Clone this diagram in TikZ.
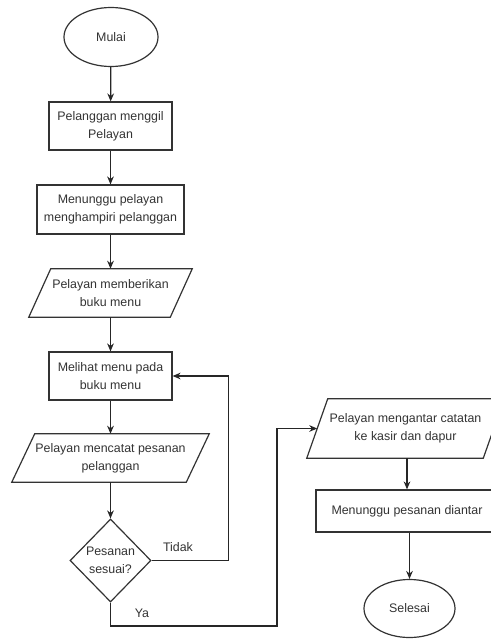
\documentclass[tikz,border=0pt]{standalone}
\usepackage{fontspec}
\setmainfont{Liberation Sans}
\usetikzlibrary{shapes.geometric,arrows.meta,calc}
\newcommand\pxu{0.75pt}
\newcommand\parabox[2]{%
  \draw[shapeline] ([xshift=#2*\pxu]#1.north west) -- (#1.north east) -- ([xshift=-#2*\pxu]#1.south east) -- (#1.south west) -- cycle;}
\begin{document}
\begin{tikzpicture}[x=0.75pt,y=-0.75pt,
  shapeline/.style={draw=black!80,line width=0.9pt},
  txt/.style={font=\fontsize{9.3}{13.6}\selectfont,text=black!80,align=center,inner sep=0pt},
  proc/.style={txt,shapeline,rectangle},
  io/.style={txt,rectangle},
  term/.style={txt,shapeline,ellipse},
  dec/.style={txt,shapeline,diamond},
  arr/.style={draw=black!85,line width=0.9pt,-{Stealth[length=6pt,width=5pt]}},
  lbl/.style={font=\fontsize{9.3}{13.6}\selectfont,text=black!80,inner sep=0pt}]
\useasboundingbox[fill=white] (0,0) rectangle (491,639);
\clip (0,0) rectangle (491,639);
% nodes
\node[term,minimum width=94*\pxu,minimum height=59*\pxu] (start) at (111,37) {Mulai};
\node[proc,minimum width=123*\pxu,minimum height=48*\pxu] (b1) at (110.5,126) {Pelanggan menggil\\Pelayan};
\node[proc,minimum width=147*\pxu,minimum height=49*\pxu] (b2) at (110.5,209.5) {Menunggu pelayan\\menghampiri pelanggan};
\node[io,minimum width=163*\pxu,minimum height=48*\pxu] (p1) at (110.5,293) {Pelayan memberikan\\buku menu};
\parabox{p1}{22}
\node[proc,minimum width=123*\pxu,minimum height=48*\pxu] (b3) at (110.5,376) {Melihat menu pada\\buku menu};
\node[io,minimum width=197*\pxu,minimum height=48*\pxu] (p2) at (110.5,458) {Pelayan mencatat pesanan\\pelanggan};
\parabox{p2}{23}
\node[dec,minimum width=81*\pxu,minimum height=83*\pxu,inner sep=0pt] (d) at (110.5,560.5) {Pesanan\\sesuai?};
\node[io,minimum width=197*\pxu,minimum height=59*\pxu] (p3) at (405.5,428.5) {Pelayan mengantar catatan\\ke kasir dan dapur};
\parabox{p3}{21}
\node[proc,minimum width=182*\pxu,minimum height=42*\pxu] (b4) at (407,511) {Menunggu pesanan diantar};
\node[term,minimum width=91*\pxu,minimum height=58*\pxu] (end) at (409.5,608.5) {Selesai};
% labels
\node[lbl] (tidak) at (178,547) {Tidak};
\node[lbl] (ya) at (142,613) {Ya};
% helper coordinates
\coordinate (p3in) at ($(p3.south west)!0.5!([xshift=21*\pxu]p3.north west)$);
\coordinate (yb) at (277,626);
% connectors
\draw[arr] (start) -- (b1);
\draw[arr] (b1) -- (b2);
\draw[arr] (b2) -- (p1);
\draw[arr] (p1) -- (b3);
\draw[arr] (b3) -- (p2);
\draw[arr] (p2) -- (d);
\draw[arr] (d.east) -- ++(77,0) |- (b3.east);
\draw[arr] (d.south) |- (yb) |- (p3in);
\draw[arr] (b4.north |- p3.south) -- (b4.north);
\draw[arr] (end.north |- b4.south) -- (end.north);
\end{tikzpicture}
\end{document}
